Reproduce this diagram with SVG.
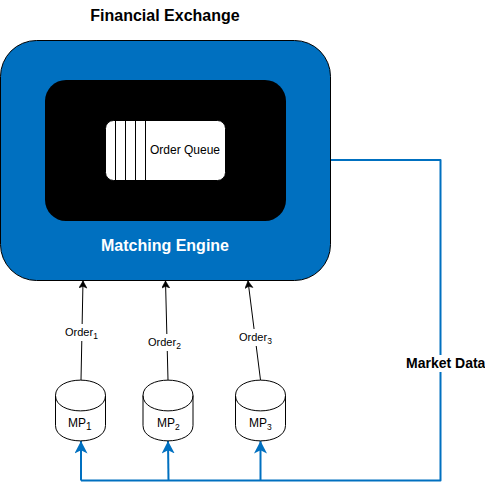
<svg xmlns="http://www.w3.org/2000/svg" width="485" height="489" viewBox="0 0 485 489">
<defs>
<marker id="ab" markerUnits="userSpaceOnUse" markerWidth="9" markerHeight="10" refX="7.5" refY="4" orient="auto"><path d="M0.5 0L7.5 4L0.5 8L2.2 4Z" fill="#000" stroke="#000" stroke-width="0.6"/></marker>
<marker id="bb" markerUnits="userSpaceOnUse" markerWidth="14" markerHeight="14" refX="12.5" refY="6.5" orient="auto"><path d="M0 0L12.5 6.5L0 13L3.2 6.5Z" fill="#0070c0"/></marker>
</defs>
<style>
text{font-family:"Liberation Sans",Arial,sans-serif;fill:#000}
.t11{font-size:11px}.t12{font-size:12px}.sub{font-size:8.5px}
.b{font-weight:bold}
.bl{fill:none;stroke:#0070c0;stroke-width:2;stroke-linejoin:round}
.ord{fill:none;stroke:#000;stroke-width:1;marker-end:url(#ab)}
.cyl{fill:#fff;stroke:#000;stroke-width:1}
</style>
<rect width="485" height="489" fill="#fff"/>
<g id="connectors">
<path class="bl" d="M331 160H440.500V480.500H81"/>
<path class="bl" d="M81 480.500V441" marker-end="url(#bb)"/>
<path class="bl" d="M168.500 480.500L168 441" marker-end="url(#bb)"/>
<path class="bl" d="M260.500 480.500V441" marker-end="url(#bb)"/>
<path class="ord" d="M81 380L83 281"/>
<path class="ord" d="M168 380L165.500 281"/>
<path class="ord" d="M260.500 380L248 281"/>
</g>
<g id="title"><text class="b" x="165" y="21" text-anchor="middle" font-size="16">Financial Exchange</text></g>
<g id="matching-engine">
<rect x="0.500" y="40.500" width="330" height="240" rx="36" fill="#0070c0" stroke="#000"/>
<rect x="45" y="80" width="241" height="141" rx="21" fill="#000"/>
<text class="b" x="165" y="251" text-anchor="middle" font-size="16" style="fill:#fff">Matching Engine</text>
</g>
<g id="order-queue">
<rect x="105.500" y="120.500" width="120" height="60" rx="8" fill="#fff" stroke="#000"/>
<path d="M115.500 120.500V180.500M125.500 120.500V180.500M135.500 120.500V180.500M145.500 120.500V180.500" stroke="#000" fill="none"/>
<text class="t12" x="185" y="154" text-anchor="middle">Order Queue</text>
</g>
<g id="label-order1"><rect x="64" y="324" width="36" height="17" fill="#fff"/><text class="t11" x="65" y="336">Order<tspan class="sub" dy="3">1</tspan></text></g>
<g id="label-order2"><rect x="147" y="334" width="36" height="17" fill="#fff"/><text class="t11" x="148" y="346">Order<tspan class="sub" dy="3">2</tspan></text></g>
<g id="label-order3"><rect x="238" y="329" width="36" height="17" fill="#fff"/><text class="t11" x="239" y="341">Order<tspan class="sub" dy="3">3</tspan></text></g>
<g id="market-data"><rect x="406" y="355" width="79" height="17" fill="#fff"/><text class="b" font-size="14" x="406" y="368">Market Data</text></g>
<g id="mp1">
<path class="cyl" d="M55.500 395.500C55.500 375 105.500 375 105.500 395.500V425.500C105.500 446 55.500 446 55.500 425.500Z"/>
<path class="cyl" style="fill:none" d="M55.500 395.500C55.500 416 105.500 416 105.500 395.500"/>
<text class="t12" x="68" y="427">MP<tspan font-size="10" dy="3">1</tspan></text>
</g>
<g id="mp2">
<path class="cyl" d="M143 395.500C143 375 193 375 193 395.500V425.500C193 446 143 446 143 425.500Z"/>
<path class="cyl" style="fill:none" d="M143 395.500C143 416 193 416 193 395.500"/>
<text class="t12" x="157" y="427">MP<tspan class="sub" dy="3">2</tspan></text>
</g>
<g id="mp3">
<path class="cyl" d="M235.500 395.500C235.500 375 285.500 375 285.500 395.500V425.500C285.500 446 235.500 446 235.500 425.500Z"/>
<path class="cyl" style="fill:none" d="M235.500 395.500C235.500 416 285.500 416 285.500 395.500"/>
<text class="t12" x="249" y="427">MP<tspan class="sub" dy="3">3</tspan></text>
</g>
</svg>
